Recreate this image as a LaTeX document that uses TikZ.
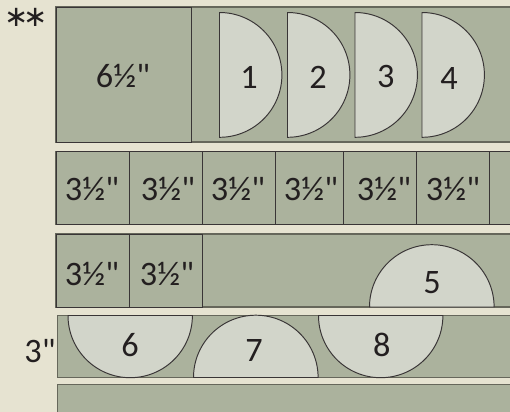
\documentclass[tikz,border=0pt]{standalone}
\usepackage{fontspec}
\newfontfamily\labelfont{Carlito}
\newfontfamily\symbfont{DejaVu Sans}
\usetikzlibrary{calc}

\definecolor{paper}{HTML}{E6E3D1}
\definecolor{sage}{HTML}{ABB29D}
\definecolor{pale}{HTML}{D2D5CA}
\definecolor{ink}{HTML}{231F20}
\definecolor{edge}{HTML}{66675B}

\begin{document}
\begin{tikzpicture}[
    x=0.02cm, y=-0.02cm,
    font=\labelfont\fontsize{19.5}{19.5}\selectfont,
    cell/.style={draw=ink!90, fill=sage, line width=0.55pt},
    strip/.style={draw=edge, fill=sage, line width=0.6pt},
    semi/.style={draw=ink!90, fill=pale, line width=0.55pt},
    lbl/.style={text=ink, inner sep=0pt}
]

    % --- page ---
    \clip (0,0) rectangle (510,412);
    \fill[paper] (0,0) rectangle (510,412);

    % --- strips ---
    \draw[strip] (56,7) rectangle (520,142);
    \draw[strip] (56,151.5) rectangle (520,224.5);
    \draw[strip] (56,234) rectangle (520,307);
    \draw[strip] (57.5,315.5) rectangle (520,377.5);
    \draw[strip, line width=1pt] (57.5,384.5) rectangle (520,420);

    % --- cut squares ---
    \draw[cell] (56,7) rectangle (191.7,142);
    \foreach \xa/\xb in {56/129,129/202,202/275,275/343,343/416,416/489,489/520}
        \draw[cell] (\xa,151.5) rectangle (\xb,224.5);
    \foreach \xa/\xb in {56/129,129/202}
        \draw[cell] (\xa,234) rectangle (\xb,307);

    % --- half circles, flat side left ---
    \foreach \xa in {219.5,287.5,355,422}
        \draw[semi] (\xa,12.5) arc (-90:90:62.4) -- cycle;

    % --- half circles, flat side down ---
    \draw[semi] (369.5,307) arc (180:360:62.3) -- cycle;
    \draw[semi] (193.5,377.5) arc (180:360:62.3) -- cycle;

    % --- half circles, flat side up ---
    \draw[semi] (68,315.5) arc (180:0:62.2) -- cycle;
    \draw[semi] (318.5,315.5) arc (180:0:62.2) -- cycle;

    % --- size labels ---
    \node[lbl] (big) at (123,76) {6½"};
    \node[lbl] (sa) at (92,189) {3½"};
    \node[lbl] (sb) at (168,189) {3½"};
    \node[lbl] (sc) at (238,189) {3½"};
    \node[lbl] (sd) at (311,189) {3½"};
    \node[lbl] (se) at (384,189) {3½"};
    \node[lbl] (sf) at (453,189) {3½"};
    \node[lbl] (sg) at (92,274.5) {3½"};
    \node[lbl] (sh) at (167,274.5) {3½"};
    \node[lbl] (wide) at (40,351) {3"};
    \node[lbl, font=\symbfont\fontsize{16.5}{16.5}\selectfont] (mark) at (26,17) {∗\kern-0.17em∗};

    % --- piece numbers ---
    \node[lbl] (n1) at (249,77) {1};
    \node[lbl] (n2) at (318,77) {2};
    \node[lbl] (n3) at (385.7,77) {3};
    \node[lbl] (n4) at (449,78.5) {4};
    \node[lbl] (n5) at (432,282.5) {5};
    \node[lbl] (n6) at (130,345) {6};
    \node[lbl] (n7) at (254,351) {7};
    \node[lbl] (n8) at (381.7,344.5) {8};
\end{tikzpicture}
\end{document}
